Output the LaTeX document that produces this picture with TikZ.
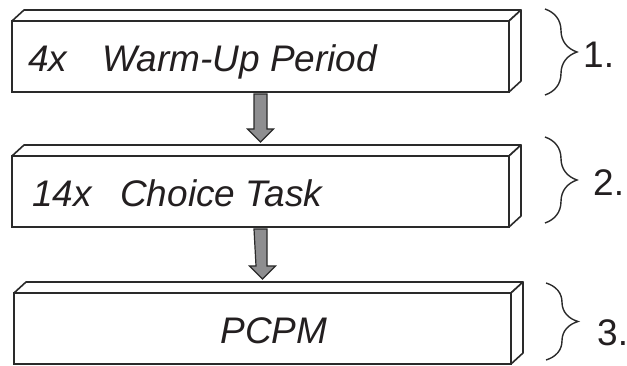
\documentclass[tikz,border=0pt]{standalone}
\usepackage{fontspec}
\setmainfont{Liberation Sans}
\usetikzlibrary{calc,decorations.pathreplacing}
\definecolor{linec}{HTML}{2A2A2A}
\definecolor{textc}{HTML}{231F20}
\definecolor{arrowfill}{HTML}{8E8E90}
\tikzset{
  frontbox/.style={draw=linec, line width=1.6pt, fill=white, rectangle, inner sep=0pt, outer sep=0pt, minimum width=497pt, minimum height=71pt, anchor=north west},
  face/.style={draw=linec, line width=1.6pt, fill=white, line join=round},
  boxtext/.style={font=\fontsize{37}{40}\selectfont\itshape, text=textc, inner sep=0pt, anchor=base west},
  numlabel/.style={font=\fontsize{37}{40}\selectfont, text=textc, inner sep=0pt, anchor=base west},
  blockarrow/.style={draw=linec, line width=1.2pt, fill=arrowfill, line join=miter},
  bracestyle/.style={draw=linec, line width=1.4pt, decorate, decoration={brace, amplitude=32pt}}
}
\begin{document}
\begin{tikzpicture}[x=1pt,y=-1pt]
\useasboundingbox (0,0) rectangle (627,366);
% boxes
\node[frontbox] (b1) at (12,21) {};
\node[frontbox] (b2) at (12,156) {};
\node[frontbox] (b3) at (14,293) {};
\foreach \b in {b1,b2,b3}{
  \draw[face] (\b.north west) -- ++(12,-11) -- ($(\b.north east)+(12,-11)$) -- (\b.north east) -- cycle;
  \draw[face] (\b.north east) -- ++(12,-11) -- ($(\b.south east)+(12,-11)$) -- (\b.south east) -- cycle;
}
% texts
\node[boxtext] (t1a) at (28,72) {4x};
\node[boxtext] (t1b) at (102,72) {Warm-Up Period};
\node[boxtext] (t2a) at (32,207) {14x};
\node[boxtext] (t2b) at (120,207) {Choice Task};
\node[boxtext, anchor=base] (t3) at (274,344) {PCPM};
% arrows
\foreach \a/\b in {b1/b2,b2/b3}{
  \draw[blockarrow] ($(\a.south)+(-6.5,2)$) -- ($(\a.south)+(6.5,2)$)
     |- ($(\b.north)+(6.5,-27)$) -- ($(\b.north)+(13,-27)$)
     -- ($(\b.north)+(0,-14)$) -- ($(\b.north)+(-13,-27)$)
     -- ($(\b.north)+(-6.5,-27)$) -- cycle;
}
% braces
\coordinate (r1t) at (545,9);  \coordinate (r1b) at (545,95);
\coordinate (r2t) at (545,137); \coordinate (r2b) at (545,223);
\coordinate (r3t) at (546,283); \coordinate (r3b) at (546,360);
\draw[bracestyle] (r1t) -- (r1b);
\draw[bracestyle] (r2t) -- (r2b);
\draw[bracestyle] (r3t) -- (r3b);
\node[numlabel] (l1) at (583,68) {1.};
\node[numlabel] (l2) at (593,196) {2.};
\node[numlabel] (l3) at (597,345) {3.};
\end{tikzpicture}
\end{document}
